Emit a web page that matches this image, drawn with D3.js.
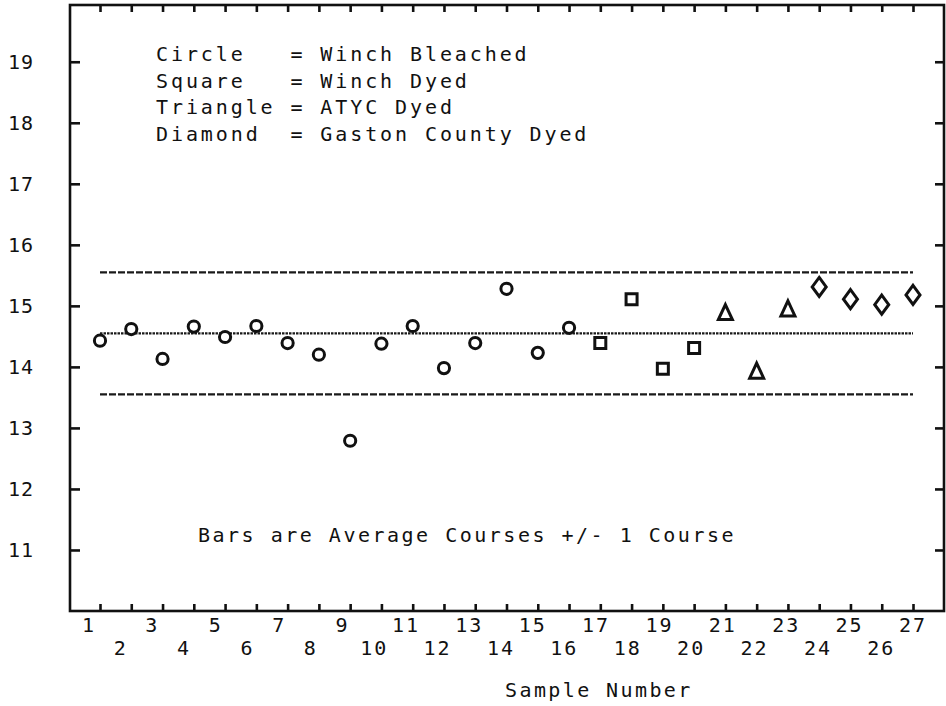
<!DOCTYPE html>
<html>
<head>
<meta charset="utf-8">
<script src="https://cdn.jsdelivr.net/npm/d3@7"></script>
<style>
  html, body { margin: 0; padding: 0; background: #fff; }
  svg { display: block; }
  text { font-family: 'DejaVu Sans Mono', 'Liberation Mono', monospace; fill: #111; }
</style>
</head>
<body>
<div id="chart"></div>
<script>
// sample numbers along the x axis
const samples = [1, 2, 3, 4, 5, 6, 7, 8, 9, 10, 11, 12, 13, 14, 15, 16, 17, 18, 19, 20, 21, 22, 23, 24, 25, 26, 27]
// average courses per sample
const courses = [14.43, 14.62, 14.13, 14.66, 14.49, 14.67, 14.39, 14.2, 12.79, 14.38, 14.67, 13.98, 14.39,
  15.28, 14.23, 14.64, 14.39, 15.11, 13.97, 14.31, 14.89, 13.93, 14.95, 15.31, 15.11, 15.02, 15.18]
// marker for each sample (which plant / process)
const shapes = ['circle', 'circle', 'circle', 'circle', 'circle', 'circle', 'circle', 'circle', 'circle',
  'circle', 'circle', 'circle', 'circle', 'circle', 'circle', 'circle',
  'square', 'square', 'square', 'square',
  'triangle', 'triangle', 'triangle',
  'diamond', 'diamond', 'diamond', 'diamond']
const yTicks = [11, 12, 13, 14, 15, 16, 17, 18, 19]
// overall average and band (+/- 1 course)
const avgCourse = 14.55
const band = 1
const legendNames = ['Circle', 'Square', 'Triangle', 'Diamond']
const legendLabels = ['Winch Bleached', 'Winch Dyed', 'ATYC Dyed', 'Gaston County Dyed']
const note = 'Bars are Average Courses +/- 1 Course'
const xTitle = 'Sample Number'

const W = 946
const H = 706
const frame = { left: 70, right: 944, top: 5, bottom: 611 }

let svg = d3.select('#chart').append('svg').attr('width', W).attr('height', H)

let x = d3.scaleLinear().domain([1, 27]).range([100, 913])
// the plotter put the number labels a bit off the ticks
let xLab = d3.scaleLinear().domain([1, 27]).range([88, 912])
let y = d3.scaleLinear().domain([10, 19.93]).range([frame.bottom, frame.top])

const tickStyle = g => {
  g.select('.domain').remove()
  g.selectAll('line').attr('stroke', '#111').attr('stroke-width', 2.6)
}

/* axes, ticks point inward */
svg.append('g')
  .attr('transform', 'translate(' + frame.left + ',0)')
  .call(d3.axisLeft(y).tickValues(yTicks).tickSize(-10).tickPadding(36).tickFormat(d3.format('d')))
  .call(tickStyle)
  .call(g => g.selectAll('text')
    .attr('font-family', "'DejaVu Sans Mono', monospace")
    .style('font-size', '20px')
    .style('letter-spacing', '1px')
    .attr('fill', '#111'))

svg.append('g')
  .attr('transform', 'translate(' + frame.right + ',0)')
  .call(d3.axisRight(y).tickValues(yTicks).tickSize(-9).tickFormat(''))
  .call(tickStyle)

svg.append('g')
  .attr('transform', 'translate(0,' + frame.top + ')')
  .call(d3.axisTop(x).tickValues(samples).tickSize(-7).tickFormat(''))
  .call(tickStyle)

svg.append('g')
  .attr('transform', 'translate(0,' + frame.bottom + ')')
  .call(d3.axisBottom(x).tickValues(samples).tickSize(-7).tickFormat(''))
  .call(tickStyle)

// staggered sample labels
svg.append('g')
  .selectAll('text')
  .data(samples)
  .enter()
  .append('text')
  .attr('x', d => xLab(d) + 1)
  .attr('y', d => (d % 2 === 1 ? 632 : 655))
  .attr('text-anchor', 'middle')
  .style('font-size', '20px')
  .style('letter-spacing', '2px')
  .text(d => d)

/* frame */
svg.append('rect')
  .attr('x', frame.left)
  .attr('y', frame.top)
  .attr('width', frame.right - frame.left)
  .attr('height', frame.bottom - frame.top)
  .attr('fill', 'none')
  .attr('stroke', '#111')
  .attr('stroke-width', 2.6)

/* average and +/- band lines */
let bands = [
  { v: avgCourse + band, dash: '7,2' },
  { v: avgCourse, dash: '2.5,1' },
  { v: avgCourse - band, dash: '7,2' }
]
svg.append('g')
  .selectAll('line')
  .data(bands)
  .enter()
  .append('line')
  .attr('x1', x(1))
  .attr('x2', x(27))
  .attr('y1', d => y(d.v))
  .attr('y2', d => y(d.v))
  .attr('stroke', '#1a1a1a')
  .attr('stroke-width', 2.2)
  .attr('stroke-dasharray', d => d.dash)

/* markers */
const markerPath = (shape, cx, cy) => {
  let p = d3.path()
  if (shape === 'circle') {
    p.arc(cx, cy, 5.6, 0, Math.PI * 2)
  } else if (shape === 'square') {
    p.rect(cx - 5.5, cy - 5.5, 11, 11)
  } else if (shape === 'triangle') {
    p.moveTo(cx, cy - 8)
    p.lineTo(cx + 7, cy + 7)
    p.lineTo(cx - 7, cy + 7)
    p.closePath()
  } else {
    p.moveTo(cx, cy - 9.5)
    p.lineTo(cx + 7, cy)
    p.lineTo(cx, cy + 9.5)
    p.lineTo(cx - 7, cy)
    p.closePath()
  }
  return p.toString()
}

svg.append('g')
  .selectAll('path')
  .data(samples.map((s, i) => ({ s: s, v: courses[i], shape: shapes[i] })))
  .enter()
  .append('path')
  .attr('d', d => markerPath(d.shape, x(d.s), y(d.v)))
  .attr('fill', '#fff')
  .attr('stroke', '#111')
  .attr('stroke-width', 3)
  .attr('stroke-linejoin', 'miter')

/* legend text */
const pad = (s, n) => s + '\u00A0'.repeat(n - s.length)
svg.append('g')
  .selectAll('text')
  .data(legendNames)
  .enter()
  .append('text')
  .attr('x', 156)
  .attr('y', (d, i) => 61 + i * 26.5)
  .style('font-size', '20px')
  .style('letter-spacing', '2.9px')
  .text((d, i) => pad(d, 9) + '=\u00A0' + legendLabels[i])

svg.append('text')
  .attr('x', 198)
  .attr('y', 542)
  .style('font-size', '20px')
  .style('letter-spacing', '2.5px')
  .text(note)

svg.append('text')
  .attr('x', 505)
  .attr('y', 697)
  .style('font-size', '20px')
  .style('letter-spacing', '2.4px')
  .text(xTitle)
</script>
</body>
</html>
